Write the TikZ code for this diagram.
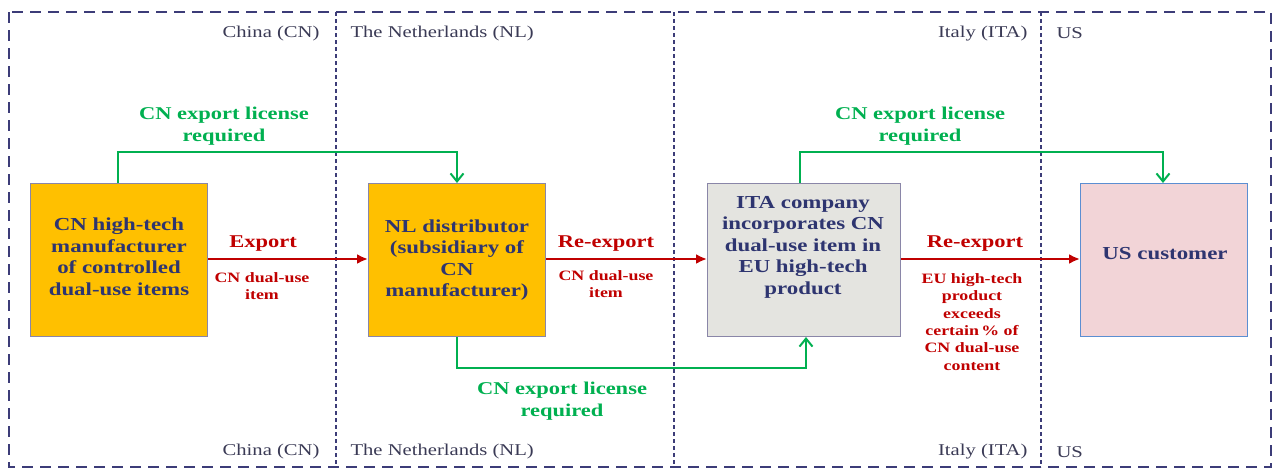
\documentclass[tikz,border=0pt]{standalone}
\usepackage{fontspec}
\setmainfont{Liberation Serif}[FakeStretch=1.25]
\usetikzlibrary{arrows.meta}
\definecolor{navy}{HTML}{2E3570}
\definecolor{frame}{HTML}{3C3C78}
\definecolor{gold}{HTML}{FFC000}
\definecolor{grayfill}{HTML}{E4E4E0}
\definecolor{pinkfill}{HTML}{F2D4D7}
\definecolor{usblue}{HTML}{5B8ED2}
\definecolor{boxline}{HTML}{8A86A8}
\definecolor{redc}{HTML}{C00000}
\definecolor{greenc}{HTML}{00B050}
\definecolor{lblc}{HTML}{3A3A55}
\tikzset{
  boxtext/.style={font=\bfseries\fontsize{18.3}{21.5}\selectfont, text=navy, align=center},
  goldbox/.style={draw=boxline, line width=1pt, fill=gold},
  redarrow/.style={draw=redc, line width=2.6pt, -{Latex[length=11pt,width=10pt]}},
  greenarrow/.style={draw=greenc, line width=2.6pt, -{Straight Barb[length=8pt,width=13pt,line width=2pt]}},
  redbig/.style={font=\bfseries\fontsize{18}{21}\selectfont, text=redc, align=center},
  redsmall/.style={font=\bfseries\fontsize{14.3}{17.3}\selectfont, text=redc, align=center},
  greenlbl/.style={font=\bfseries\fontsize{18}{22}\selectfont, text=greenc, align=center},
  country/.style={font=\fontsize{16.5}{18}\selectfont, text=lblc},
  divider/.style={draw=frame, line width=1.1pt, dash pattern=on 4pt off 3pt},
}
\begin{document}
\begin{tikzpicture}[x=1pt,y=-1pt]
\useasboundingbox (0,0) rectangle (1279,471);
% outer frame
\draw[draw=frame, line width=2.6pt, dash pattern=on 11pt off 7pt] (9,12) rectangle (1271,467);
% dividers
\draw[divider] (336,12) -- (336,467);
\draw[divider] (674,12) -- (674,467);
\draw[divider] (1041,12) -- (1041,467);
% country labels
\node[country, anchor=east] (cnT) at (323,33.5) {China (CN)};
\node[country, anchor=west] (nlT) at (347,33.5) {The Netherlands (NL)};
\node[country, anchor=east] (itT) at (1031,33.5) {Italy (ITA)};
\node[country, anchor=west] (usT) at (1053,33.5) {US};
\node[country, anchor=east] (cnB) at (323,452) {China (CN)};
\node[country, anchor=west] (nlB) at (347,452) {The Netherlands (NL)};
\node[country, anchor=east] (itB) at (1031,452) {Italy (ITA)};
\node[country, anchor=west] (usB) at (1053,452) {US};
% boxes
\node[goldbox, minimum width=177pt, minimum height=153pt, anchor=north west, inner sep=0pt] (b1) at (30,183) {};
\node[boxtext] (t1) at (119,257) {CN high-tech\\manufacturer\\of controlled\\dual-use items};
\node[goldbox, minimum width=177pt, minimum height=153pt, anchor=north west, inner sep=0pt] (b2) at (368,183) {};
\node[boxtext] (t2) at (457,260) {NL distributor\\(subsidiary of\\CN\\manufacturer)};
\node[draw=boxline, line width=1pt, fill=grayfill, minimum width=193pt, minimum height=153pt, anchor=north west, inner sep=0pt] (b3) at (707,183) {};
\node[boxtext] (t3) at (803,247) {ITA company\\incorporates CN\\dual-use item in\\EU high-tech\\product};
\node[draw=usblue, line width=1.2pt, fill=pinkfill, minimum width=167pt, minimum height=153pt, anchor=north west, inner sep=0pt] (b4) at (1080,183) {};
\node[boxtext] (t4) at (1165,254) {US customer};
% red arrows
\draw[redarrow] (b1.east |- 0,259) -- (b2.west |- 0,259);
\draw[redarrow] (b2.east |- 0,259) -- (b3.west |- 0,259);
\draw[redarrow] (b3.east |- 0,259) -- (b4.west |- 0,259);
\node[redbig] (e1) at (263,244) {Export};
\node[redsmall] (e1s) at (262,286) {CN dual-use\\item};
\node[redbig] (e2) at (606,244) {Re-export};
\node[redsmall] (e2s) at (606,284) {CN dual-use\\item};
\node[redbig] (e3) at (975,244) {Re-export};
\node[redsmall] (e3s) at (972,322) {EU high-tech\\product\\exceeds\\certain\,\% of\\CN dual-use\\content};
% green arrows
\coordinate (g1a) at (118,152);
\coordinate (g1b) at (457,152);
\draw[greenarrow] (b1.north -| g1a) -- (g1a) -- (g1b) -- (b2.north -| g1b);
\node[greenlbl] (gl1) at (224,126) {CN export license\\required};
\coordinate (g2a) at (800,152);
\coordinate (g2b) at (1163,152);
\draw[greenarrow] (b3.north -| g2a) -- (g2a) -- (g2b) -- (b4.north -| g2b);
\node[greenlbl] (gl2) at (920,126) {CN export license\\required};
\coordinate (g3a) at (457,368);
\coordinate (g3b) at (806,368);
\draw[greenarrow] (b2.south -| g3a) -- (g3a) -- (g3b) -- (b3.south -| g3b);
\node[greenlbl] (gl3) at (562,401) {CN export license\\required};
\end{tikzpicture}
\end{document}
